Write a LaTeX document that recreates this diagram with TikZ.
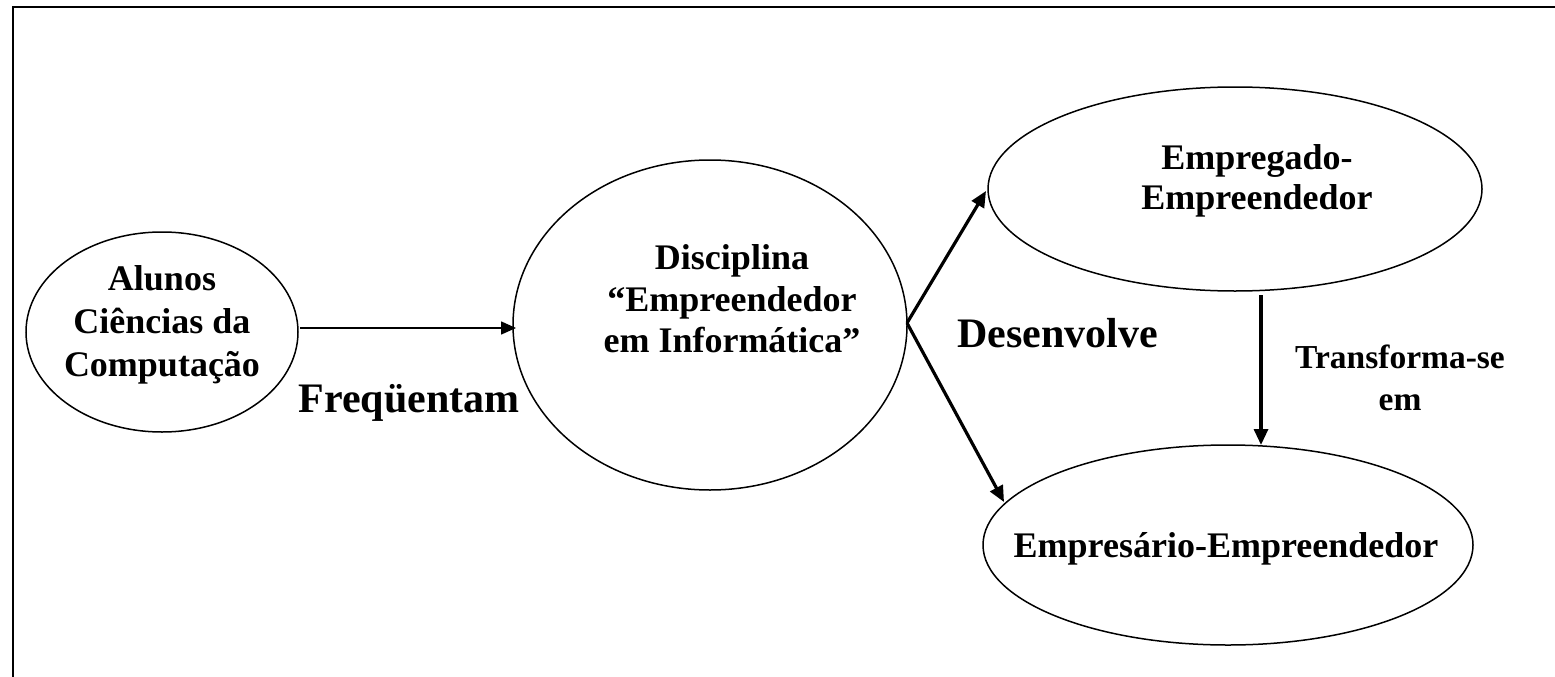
\documentclass[tikz,border=0pt]{standalone}
\usepackage{fontspec}
\setmainfont{Liberation Serif}
\usetikzlibrary{shapes.geometric,arrows.meta}
\begin{document}
\begin{tikzpicture}[x=1pt,y=-1pt,
  ell/.style={draw,line width=1.5pt,ellipse,inner sep=0pt},
  lbl/.style={font=\fontsize{36}{43}\selectfont\bfseries,align=center,inner sep=0pt},
  big/.style={font=\fontsize{42}{48}\selectfont\bfseries,inner sep=0pt},
  thinarr/.style={line width=1.6pt,-{Triangle[length=15pt,width=13pt]}},
  thickarr/.style={line width=3.2pt,-{Triangle[length=16pt,width=14pt]}}]
\useasboundingbox (0,0) rectangle (1555,677);
\draw[line width=2.2pt] (1560,7) -- (13,7) -- (13,680);
% ellipses
\node[ell,minimum width=272pt,minimum height=200pt] (alunos) at (162,332) {};
\node[ell,minimum width=394pt,minimum height=330pt] (disc) at (710,325) {};
\node[ell,minimum width=494pt,minimum height=204pt] (emp) at (1235,189) {};
\node[ell,minimum width=490pt,minimum height=200pt] (empr) at (1228,545) {};
% texts
\node[lbl] (talunos) at (162,325) {Alunos\\Ciências da\\Computação};
\node[lbl,font=\fontsize{36}{41.5}\selectfont\bfseries] (tdisc) at (732,299) {Disciplina\\“Empreendedor\\em Informática”};
\node[lbl,font=\fontsize{36}{40}\selectfont\bfseries] (temp) at (1257,181) {Empregado-\\Empreendedor};
\node[lbl,anchor=base] (tempr) at (1226,557) {Empresário-Empreendedor};
\node[big,anchor=base] (freq) at (409,412) {Freqüentam};
\node[big,anchor=base west] (desen) at (957,347) {Desenvolve};
\node[lbl,font=\fontsize{33.5}{42}\selectfont\bfseries,anchor=north] (transf) at (1400,345) {Transforma-se\\em};
% connector points
\coordinate (a1) at (300,328);
\coordinate (a2) at (516,328);
\coordinate (d0) at (907,323);
\coordinate (d1) at (986,191);
\coordinate (d2) at (1004,502);
\coordinate (v1) at (1261,295);
\coordinate (v2) at (1261,445);
\draw[thinarr] (a1) -- (a2);
\draw[thickarr] (d0) -- (d1);
\draw[thickarr] (d0) -- (d2);
\draw[thickarr] (v1) -- (v2);
\end{tikzpicture}
\end{document}
